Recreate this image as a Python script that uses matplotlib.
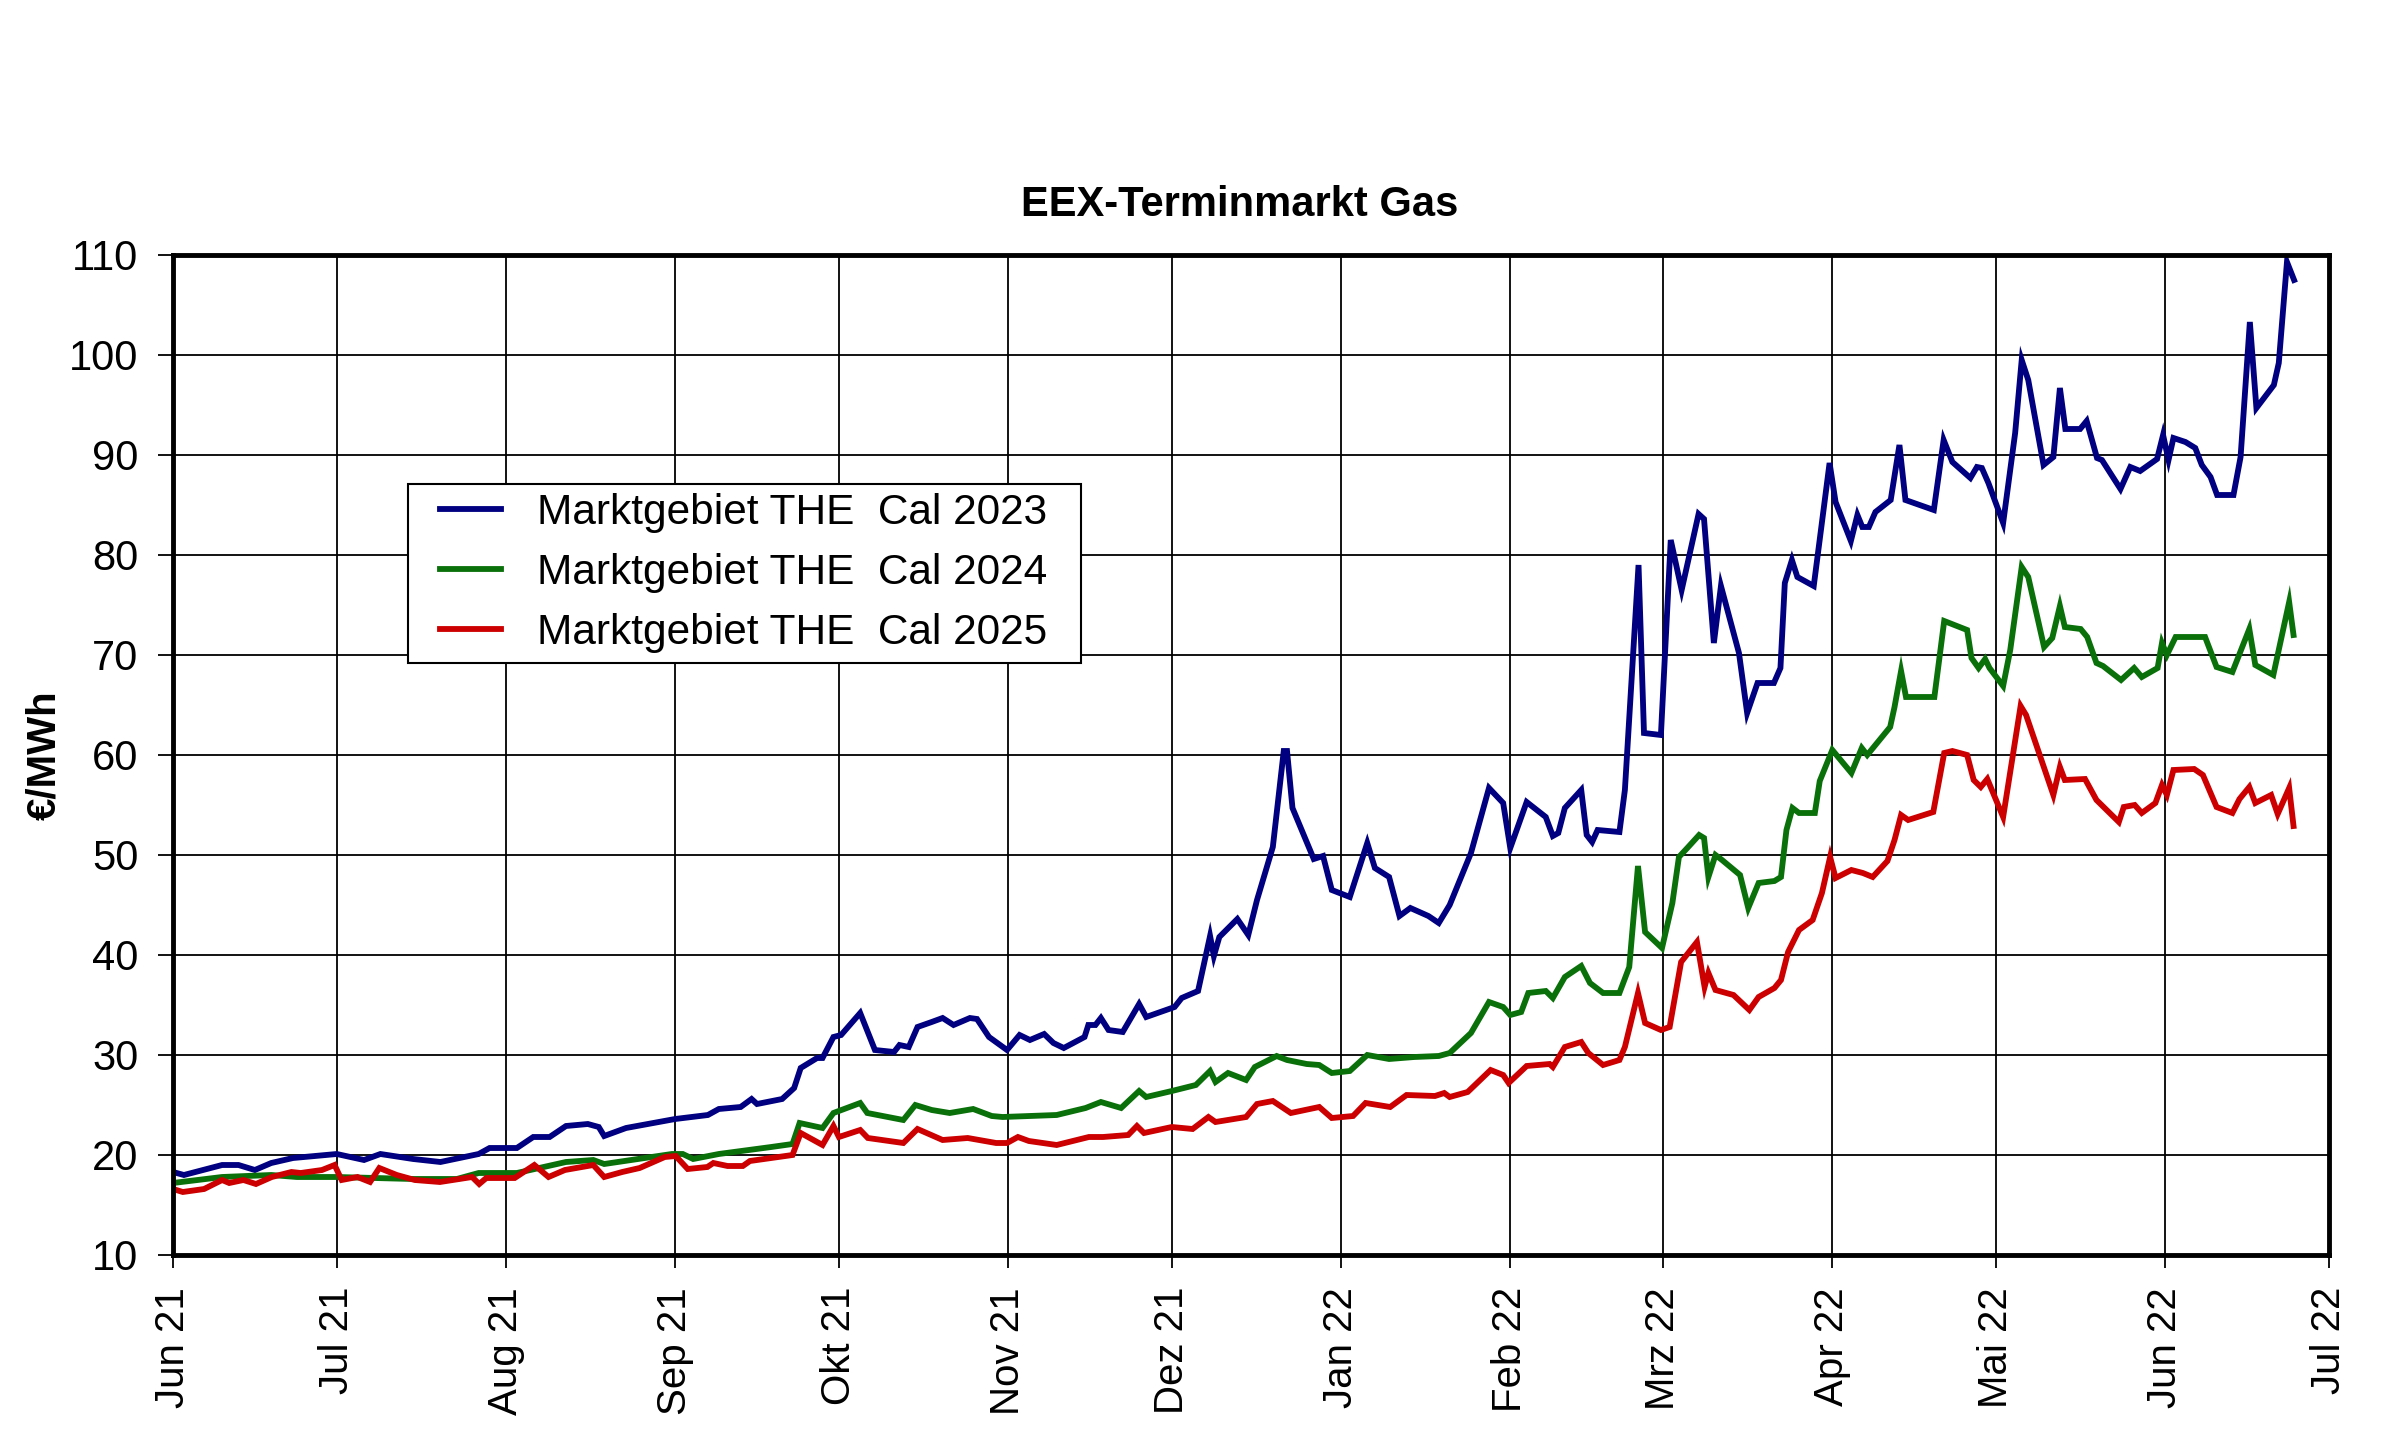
import matplotlib
matplotlib.use("Agg")
import matplotlib.pyplot as plt
from matplotlib.patches import Rectangle
import pandas as pd

plt.rcParams['font.family'] = ['Liberation Sans', 'DejaVu Sans']

start_date = "2021-06-01"

# day offsets from start_date and values (EUR/MWh)
cal23_days = [0, 2, 9, 12, 15, 18, 22, 30, 35, 38, 44, 49, 56, 58, 63, 66, 69, 72, 76, 78, 79, 83, 90, 92, 98, 100,
              104, 106, 107, 111.6, 113.8, 115, 118, 119, 121, 122.4, 125.9, 128.6, 132.1, 133.1, 134.8, 136.4, 139,
              141, 143, 146, 147.3, 149.5, 152.8, 155.1, 157, 159.6, 161.3, 163.2, 167, 167.7, 169, 170, 171.4, 174,
              177, 178.3, 183.5, 184.8, 187.8, 190, 190.7, 191.7, 195, 197, 198.6, 201.5, 203.5, 204.1, 205.1, 209,
              210.7, 212.3, 215.6, 218.8, 220.2, 222.8, 224.7, 226.7, 230, 231.9, 233.9, 237.8, 241.1, 243.7, 245,
              248, 251.5, 252.8, 253.8, 255, 258, 259, 260, 261, 265, 266, 268.5, 269.5, 272.6, 274.4, 276.4, 279.5,
              280.5, 282.3, 283.6, 286.9, 288.4, 290.3, 293.3, 294.5, 295.3, 296.6, 297.6, 300.6, 303.5, 304.6, 307.4,
              308.6, 309.5, 310.7, 311.9, 314.7, 316.3, 317.4, 322.6, 324.4, 326, 329.3, 330.5, 331.4, 332.6, 335.3,
              337.5, 338.7, 339.9, 342.7, 344.5, 345.7, 346.7, 349.4, 350.6, 352.5, 353.4, 356.8, 358.6, 360.4, 363.5,
              364.6, 365.6, 366.5, 368.7, 370.5, 371.7, 373.3, 374.5, 377.5, 378.8, 380.5, 381.7, 384.9, 385.8, 387.3,
              388.6]
cal23_vals = [18.3, 18.0, 19.0, 19.0, 18.5, 19.2, 19.7, 20.1, 19.5, 20.1, 19.6, 19.3, 20.1, 20.7, 20.7, 21.8, 21.8,
              22.9, 23.1, 22.8, 21.9, 22.7, 23.4, 23.6, 24.0, 24.6,
              24.8, 25.6, 25.1, 25.6, 26.7, 28.7, 29.7, 29.7, 31.8, 32.0, 34.2, 30.5, 30.3, 31.0, 30.8, 32.8, 33.3,
              33.7, 33.0, 33.7, 33.6, 31.8, 30.5, 32.0, 31.5, 32.1, 31.2, 30.7, 31.8, 33.0, 33.0, 33.7, 32.5, 32.3,
              35.1, 33.8, 34.8, 35.7, 36.4, 41.9, 39.9, 41.8, 43.6, 42.0, 45.5, 50.8, 60.4, 60.4, 54.7, 49.6,
              49.9, 46.5, 45.8, 51.2, 48.7, 47.8, 43.9, 44.7, 43.9, 43.2, 45.0, 50.2, 56.7, 55.2, 50.7,
              55.3, 53.8, 51.9, 52.2, 54.7, 56.5, 52.0, 51.3, 52.5, 52.3, 56.5, 79.0, 62.2, 62.0, 81.5, 76.5, 84.1,
              83.6, 71.2, 76.9, 70.2, 64.2, 67.2, 67.2, 68.7, 77.2, 79.5, 77.8, 76.9, 89.2, 85.3, 81.4,
              84.0, 82.8, 82.8, 84.3, 85.5, 91.0, 85.5, 84.5, 91.5, 89.3, 87.7, 88.8, 88.7, 87.2, 83.2,
              92.2, 99.5, 97.5, 89.0, 89.8, 96.7, 92.6, 92.6, 93.4, 89.7, 89.5, 86.6, 88.8, 88.4, 89.6,
              92.0, 89.5, 91.7, 91.3, 90.7, 89.0, 87.8, 86.0, 86.0, 89.8, 103.3, 94.7, 97.0, 99.2, 109.3,
              107.5]

cal24_days = [0, 9, 18, 22.7, 30, 44, 52, 56, 63, 72, 77, 79, 91.4, 93.4, 95.3, 100, 109.6, 113.5, 114.8, 119, 121,
              125.9, 127.2, 133.8, 136, 139, 142.3, 146.6, 150, 152, 161.9, 167.2, 170, 173.7, 177, 178.3, 183,
              187.4, 190, 191, 193.3, 196.6, 198.2, 202.2, 204.1, 207.7, 210, 212.3, 215.6, 218.8, 222.8, 227.4,
              231.9, 233.9, 237.8, 241.1, 243.7, 245, 247, 248.3, 251.5, 252.8, 255, 258, 259.6, 262, 265, 266.8,
              268.4, 269.7, 272.8, 274.7, 275.9, 277.6, 279.6, 280.5, 281.3, 282.6, 283.8, 287.1, 288.6, 290.5,
              293.4, 294.6, 295.6, 296.7, 297.9, 300.8, 301.7, 304, 307.5, 309.4, 310.4, 314.6, 315.4, 316.6, 317.5,
              322.7, 324.5, 328.7, 329.5, 330.8, 332, 332.8, 335.3, 336.6, 338.7, 339.9, 342.8, 344.3, 345.7, 346.6,
              349.5, 350.7, 352.4, 353.6, 356.9, 359.3, 360.7, 363.6, 364.4, 365.3, 366.9, 372.3, 374.4, 377.3,
              380.4, 381.5, 384.8, 387.7, 388.5]
cal24_vals = [17.2, 17.8, 18.0, 17.8, 17.8, 17.6, 17.6, 18.2, 18.2, 19.3, 19.5, 19.1, 20.1, 20.1, 19.6, 20.1, 20.8,
              21.1, 23.2, 22.7, 24.2, 25.2, 24.2, 23.5, 25.0, 24.5, 24.2, 24.6, 23.9, 23.8, 24.0, 24.7, 25.3, 24.7,
              26.4, 25.8, 26.4, 27.0, 28.4, 27.3, 28.2, 27.5, 28.8, 29.9, 29.5, 29.1, 29.0, 28.2, 28.4, 30.0, 29.6,
              29.8, 29.9, 30.2, 32.2, 35.3, 34.8, 34.0, 34.3, 36.2, 36.4, 35.7, 37.8, 38.9, 37.2, 36.2, 36.2, 38.8,
              48.9, 42.3, 40.7, 45.2, 49.8, 50.8, 52.0, 51.7, 47.8, 50.0, 49.5, 48.0, 44.7, 47.2,
              47.4, 47.8, 52.5, 54.7, 54.2, 54.2, 57.4, 60.5, 58.2, 60.7, 60.0, 62.8, 64.8, 68.4, 65.8,
              65.8, 73.4, 72.5, 69.7, 68.7, 69.6, 68.7, 66.9, 70.5, 78.8, 77.8, 70.8, 71.7, 74.9, 72.8,
              72.6, 71.8, 69.2, 68.9, 67.5, 68.7, 67.8, 68.7, 71.2, 70.0, 71.8, 71.8, 68.8, 68.3,
              72.6, 69.0, 68.0, 75.3, 72.0]

cal25_days = [0, 1.8, 5.7, 9, 10.3, 12.9, 15.2, 18.1, 21.7, 23.4, 27.3, 29.6, 30.9, 33.8, 36.1, 37.8, 41, 44.3, 48.9,
              54.8, 56.1, 57.4, 62.6, 66.2, 68.8, 71.8, 77, 79, 82.3, 85.5, 90.1, 92.1, 94.3, 97.9, 99, 101.6,
              104.4, 105.7, 109.6, 113.5, 115, 119, 121, 122, 125.9, 127.3, 133.8, 136.4, 141, 145.6, 150.8, 152.8,
              154.8, 156.8, 161.9, 167.8, 170.4, 175, 176.6, 177.9, 183, 186.8, 189.7, 191, 196.6, 198.6, 201.5,
              204.8, 210, 212.3, 216.2, 218.5, 223, 226, 231.2, 232.9, 233.9, 237.2, 239.5, 241.4, 243.7, 244.7,
              248, 252.2, 252.8, 255, 258, 259.3, 262, 265, 266, 268.4, 269.7, 272.6, 274.2, 276.3, 279.2, 280.6,
              281.3, 282.6, 285.9, 288.8, 290.5, 293.4, 294.6, 295.9, 297.9, 300.4, 302.1, 303.6, 304.6, 307.5,
              309.6, 311.4, 314.1, 315.4, 316.6, 317.9, 322.5, 324.5, 326, 328.7, 329.9, 331.2, 332.4, 335.3,
              338.5, 339.5, 344.5, 345.7, 346.6, 350.3, 352.4, 356.5, 357.4, 359.4, 360.7, 363.2, 364.4, 365.3,
              366.5, 370.3, 371.9, 374.4, 377.3, 378.6, 380.4, 381.5, 384.4, 385.6, 387.7, 388.5]
cal25_vals = [16.6, 16.3, 16.6, 17.5, 17.2, 17.5, 17.1, 17.8, 18.3, 18.2, 18.5, 19.0, 17.5, 17.8, 17.3, 18.7, 18.0,
              17.5, 17.3, 17.8, 17.1, 17.7, 17.7, 19.0, 17.8, 18.5, 19.0, 17.8, 18.3, 18.7, 19.8, 19.9, 18.6, 18.8,
              19.2, 18.9, 18.9, 19.4, 19.7, 20.0, 22.2, 21.0, 22.9, 21.8, 22.5, 21.7, 21.2, 22.6, 21.5, 21.7, 21.2,
              21.2, 21.8, 21.4, 21.0, 21.8, 21.8, 22.0, 22.9, 22.2, 22.8, 22.6, 23.8, 23.3, 23.8, 25.1, 25.4,
              24.2, 24.8, 23.7, 23.9, 25.2, 24.8, 26.0, 25.9, 26.2, 25.8, 26.3, 27.5, 28.5, 28.0, 27.2,
              28.9, 29.1, 28.8, 30.8, 31.3, 30.2, 29.0, 29.5, 30.8, 36.2, 33.2, 32.5, 32.8, 39.3, 41.3, 36.8,
              38.2, 36.5, 36.0, 34.5, 35.8, 36.7, 37.5, 40.3, 42.5, 43.5, 46.2, 49.8, 47.7, 48.5,
              48.2, 47.8, 49.4, 51.5, 54.0, 53.5, 54.3, 60.2, 60.4, 60.0, 57.5, 56.8, 57.6, 53.8,
              64.9, 64.0, 56.0, 58.8, 57.5, 57.6, 55.5, 53.3, 54.8, 55.0, 54.2, 55.2, 57.0, 56.0,
              58.5, 58.6, 58.0, 54.8, 54.2, 55.6, 56.8, 55.2, 56.0, 54.1, 56.7, 52.9]

series_labels = ["Marktgebiet THE  Cal 2023", "Marktgebiet THE  Cal 2024", "Marktgebiet THE  Cal 2025"]
series_colors = ["#000080", "#0a700a", "#cc0000"]

tick_months = ["2021-06-01", "2021-07-01", "2021-08-01", "2021-09-01", "2021-10-01", "2021-11-01", "2021-12-01",
               "2022-01-01", "2022-02-01", "2022-03-01", "2022-04-01", "2022-05-01", "2022-06-01", "2022-07-01"]
tick_labels = ["Jun 21", "Jul 21", "Aug 21", "Sep 21", "Okt 21", "Nov 21", "Dez 21",
               "Jan 22", "Feb 22", "Mrz 22", "Apr 22", "Mai 22", "Jun 22", "Jul 22"]
y_ticks = [10, 20, 30, 40, 50, 60, 70, 80, 90, 100, 110]

t0 = pd.Timestamp(start_date)


def to_dates(days):
    return [t0 + pd.Timedelta(days=d) for d in days]


fig = plt.figure(figsize=(24, 14.43), dpi=100)
ax = fig.add_axes([173 / 2400, 1 - 1255 / 1443, 2156 / 2400, 1000 / 1443])

for days, vals, lab, col in zip([cal23_days, cal24_days, cal25_days],
                                [cal23_vals, cal24_vals, cal25_vals],
                                series_labels, series_colors):
    ax.plot(to_dates(days), vals, color=col, lw=4.2, label=lab, solid_joinstyle='miter', zorder=3)

ax.set_xlim(pd.Timestamp(tick_months[0]), pd.Timestamp(tick_months[-1]))
ax.set_ylim(y_ticks[0], y_ticks[-1])
ax.set_xticks([pd.Timestamp(m) for m in tick_months])
ax.set_xticklabels(tick_labels, rotation=90, fontsize=29)
ax.set_yticks(y_ticks)
ax.set_yticklabels([str(v) for v in y_ticks], fontsize=30)
ax.tick_params(axis='y', direction='out', length=11, width=1.3, pad=14)
ax.tick_params(axis='x', direction='out', length=9, width=1.3, pad=14)

ax.grid(True, color='black', lw=1.3, zorder=1)
for s in ax.spines.values():
    s.set_linewidth(3.5)
    s.set_color('black')
    s.set_zorder(4)

fig.text(1240 / 2400, 1 - 205 / 1443, "EEX-Terminmarkt Gas", fontsize=30, fontweight='bold',
         ha='center', va='center')
ax.set_ylabel("€/MWh", fontsize=29, fontweight='bold', labelpad=4)

# legend frame (white box with thin black border) drawn behind the legend entries
ax.add_patch(Rectangle((0.109, 0.592), 0.312, 0.179, transform=ax.transAxes, facecolor='white',
                       edgecolor='black', lw=1.5, zorder=5))
leg = ax.legend(loc='upper left', bbox_to_anchor=(0.1238, 0.762),
                borderaxespad=0, borderpad=0, fontsize=30.5, frameon=False,
                handlelength=1.45, handletextpad=0.85, labelspacing=0.47)
leg.set_zorder(6)
for h in leg.get_lines():
    h.set_linewidth(4.2)

fig.savefig("out.png", dpi=100, facecolor='white')
